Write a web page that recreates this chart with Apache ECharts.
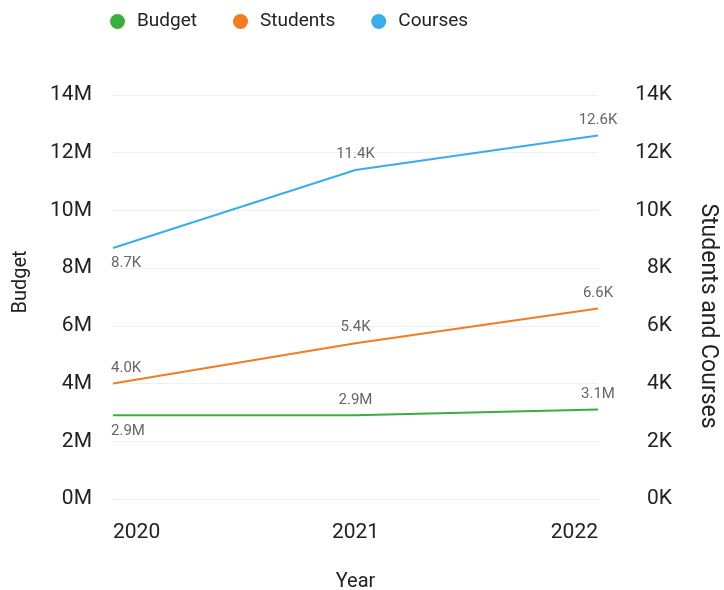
<!DOCTYPE html>
<html>
<head>
<meta charset="utf-8">
<script src="https://cdn.jsdelivr.net/npm/echarts@6/dist/echarts.min.js"></script>
<style>
  html, body { margin: 0; padding: 0; background: #fff; }
  #chart { width: 724px; height: 590px; }
</style>
</head>
<body>
<div id="chart"></div>
<script>
// Yearly figures
const years = ['2020', '2021', '2022'];
const budget = [2900000, 2900000, 3100000];
const students = [4000, 5400, 6600];
const courses = [8700, 11400, 12600];

const FONT = 'Roboto, "Noto Sans", sans-serif';
const C_BUDGET = '#3aae3f';
const C_STUDENTS = '#f47b20';
const C_COURSES = '#38aee8';

const fmtM = v => (v / 1e6).toFixed(1) + 'M';
const fmtK = v => (v / 1e3).toFixed(1) + 'K';

// first point's label sits at the left edge of the plot; some labels go below
function points(values, belowFirst) {
  return values.map((v, i) => {
    const item = { value: v };
    if (i === 0) {
      item.label = { align: 'left', offset: [-2, 0] };
      if (belowFirst) item.label.position = 'bottom';
    }
    return item;
  });
}

function lineSeries(name, values, axis, color, fmt, belowFirst) {
  return {
    name: name,
    type: 'line',
    yAxisIndex: axis,
    data: points(values, belowFirst),
    symbol: 'circle',
    symbolSize: 0,
    showSymbol: true,
    lineStyle: { color: color, width: 2 },
    itemStyle: { color: color },
    label: {
      show: true,
      position: 'top',
      distance: 8,
      color: '#666',
      fontSize: 15,
      fontFamily: FONT,
      formatter: p => fmt(p.value)
    },
    emphasis: { disabled: true }
  };
}

const chart = echarts.init(document.getElementById('chart'), null, { renderer: 'canvas' });
chart.setOption({
  animation: false,
  backgroundColor: '#fff',
  textStyle: { fontFamily: FONT },
  legend: {
    top: 7,
    left: 105,
    icon: 'circle',
    itemWidth: 15,
    itemHeight: 15,
    itemGap: 36,
    textStyle: { fontSize: 19, color: '#222', fontFamily: FONT, padding: [0, 0, 0, 7] },
    data: ['Budget', 'Students', 'Courses']
  },
  grid: { left: 113, right: 126, top: 95, bottom: 91, outerBoundsMode: 'none', containLabel: false },
  xAxis: {
    type: 'category',
    data: years,
    boundaryGap: false,
    name: 'Year',
    nameLocation: 'middle',
    nameGap: 73,
    nameTextStyle: { fontSize: 20, color: '#222', fontFamily: FONT },
    axisLine: { show: false },
    axisTick: { show: false },
    axisLabel: {
      fontSize: 21, color: '#222', margin: 23, fontFamily: FONT,
      alignMinLabel: 'left', alignMaxLabel: 'right'
    },
    splitLine: { show: false }
  },
  yAxis: [
    {
      type: 'value',
      min: 0, max: 14000000, interval: 2000000,
      name: 'Budget',
      nameLocation: 'middle',
      nameGap: 82,
      nameTextStyle: { fontSize: 20, color: '#222', fontFamily: FONT, padding: [0, 0, 0, 30] },
      axisLine: { show: false },
      axisTick: { show: false },
      axisLabel: {
        fontSize: 21, color: '#222', margin: 21, fontFamily: FONT,
        formatter: v => (v / 1e6) + 'M'
      },
      splitLine: { lineStyle: { color: '#efefef', width: 1 } }
    },
    {
      type: 'value',
      position: 'right',
      min: 0, max: 14000, interval: 2000,
      name: 'Students and Courses',
      nameLocation: 'middle',
      nameRotate: -90,
      nameGap: 98,
      nameTextStyle: { fontSize: 23, color: '#222', fontFamily: FONT, padding: [0, 0, 0, 38] },
      axisLine: { show: false },
      axisTick: { show: false },
      axisLabel: {
        fontSize: 21, color: '#222', margin: 74, align: 'right', fontFamily: FONT,
        formatter: v => (v / 1e3) + 'K'
      },
      splitLine: { show: false }
    }
  ],
  series: [
    lineSeries('Budget', budget, 0, C_BUDGET, fmtM, true),
    lineSeries('Students', students, 1, C_STUDENTS, fmtK, false),
    lineSeries('Courses', courses, 1, C_COURSES, fmtK, true)
  ]
});
</script>
</body>
</html>
